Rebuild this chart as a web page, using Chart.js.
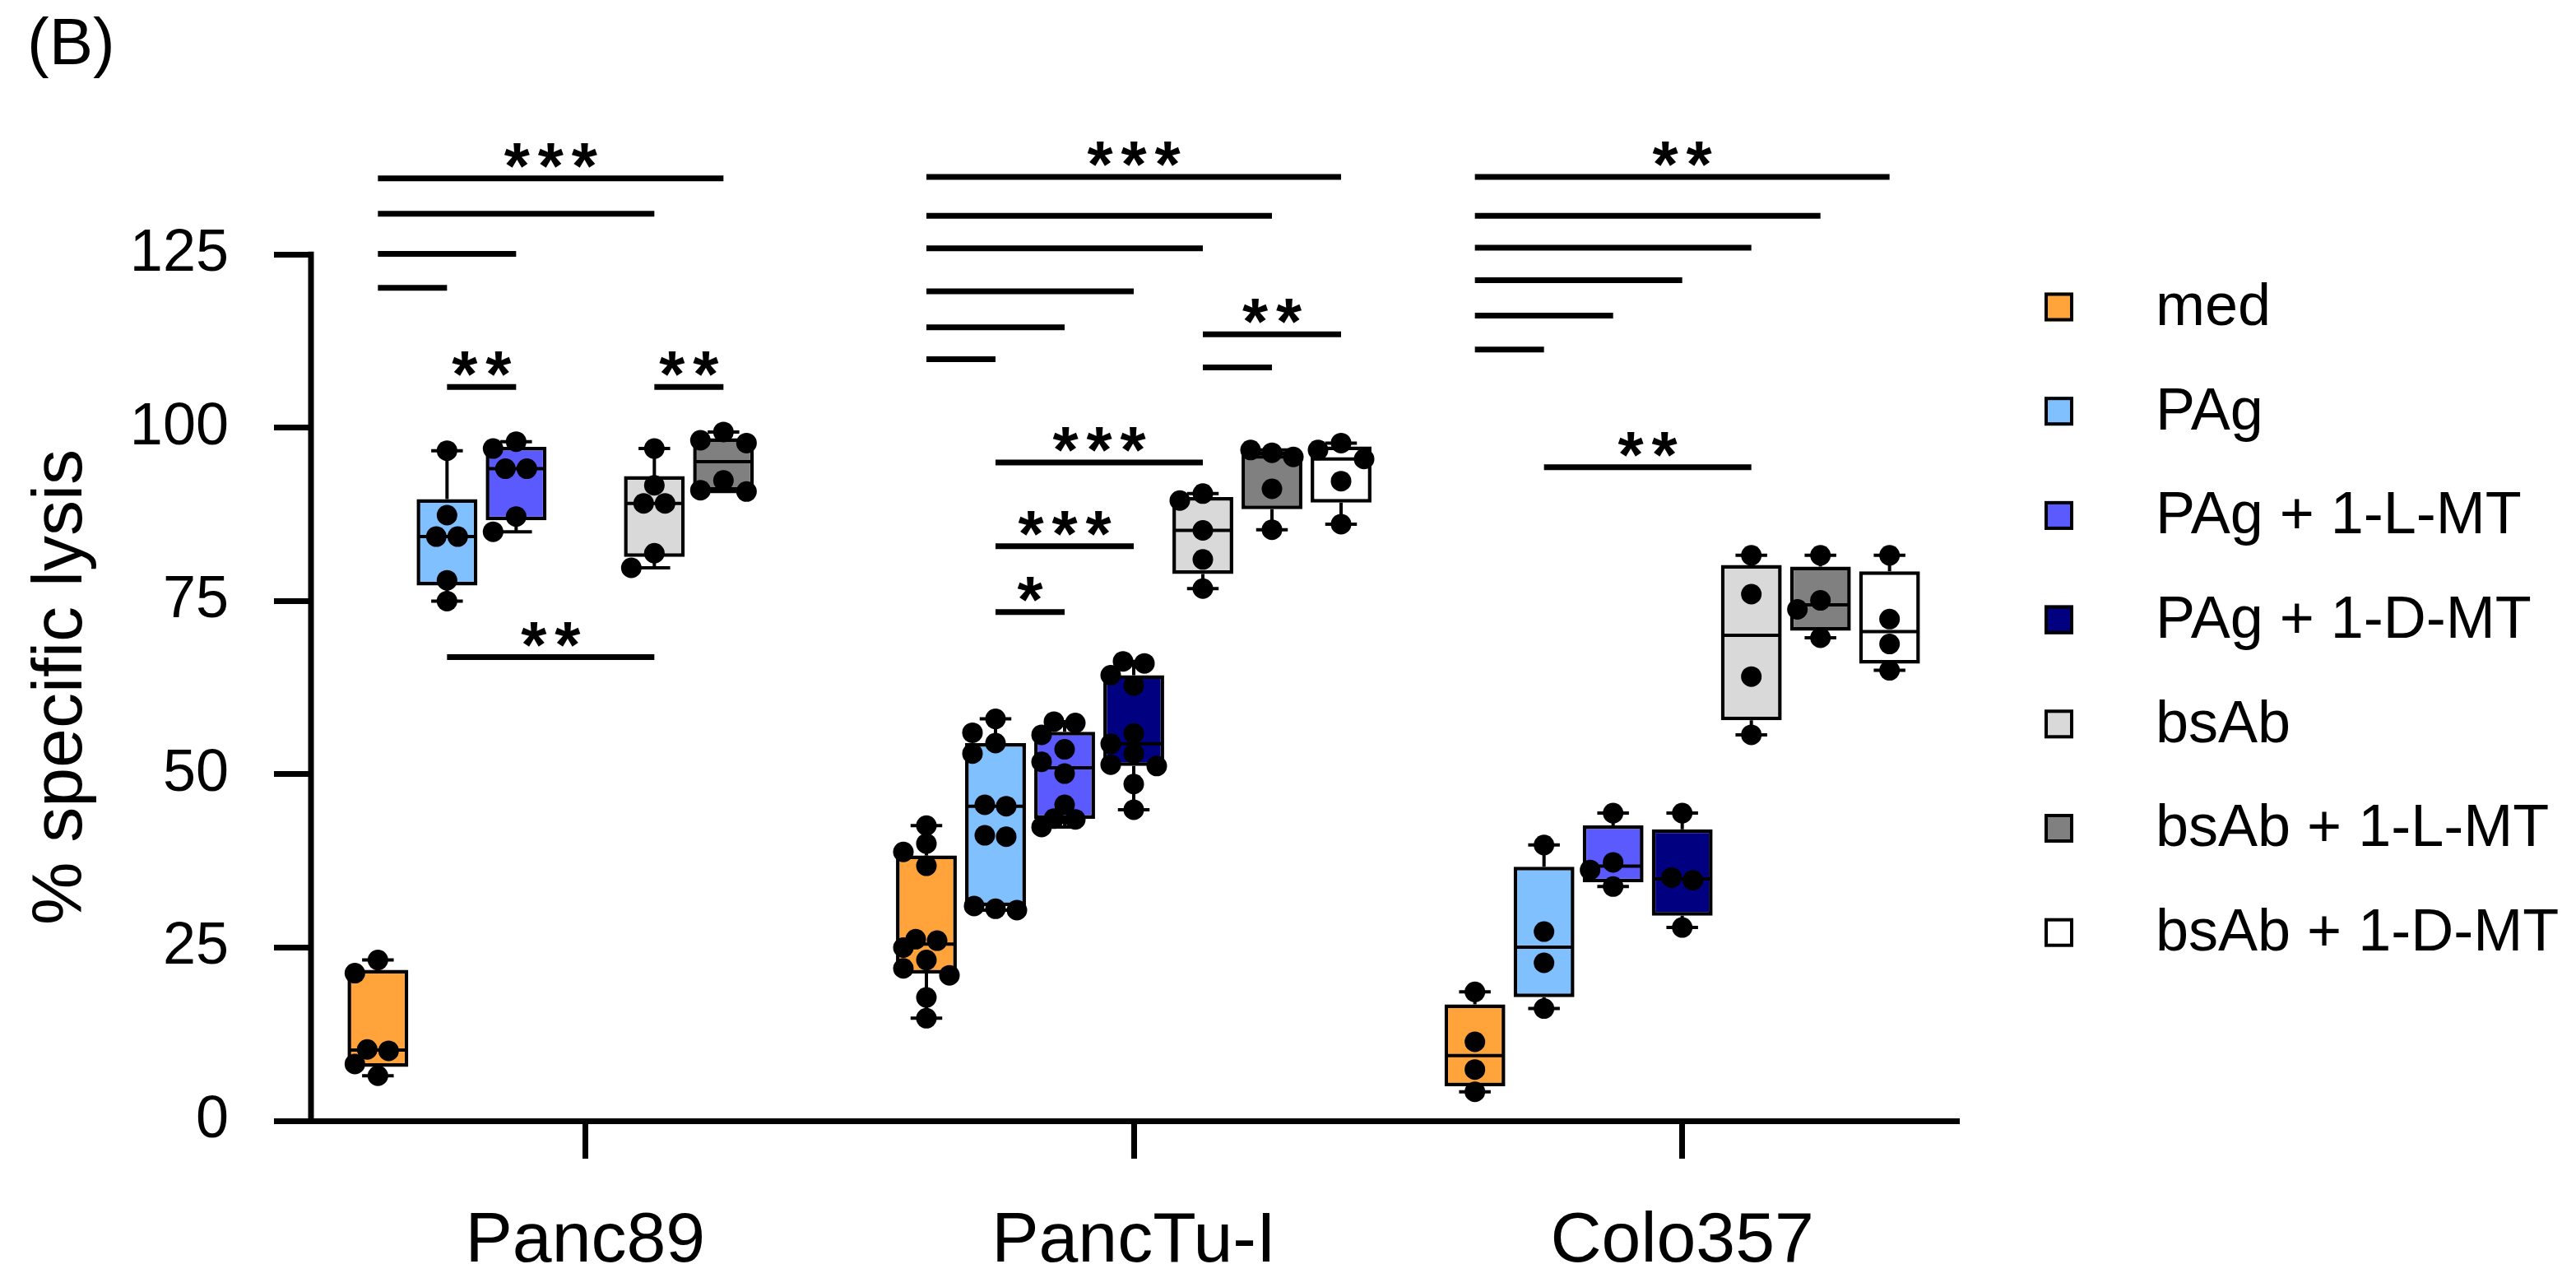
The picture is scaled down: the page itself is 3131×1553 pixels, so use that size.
<!DOCTYPE html>
<html>
<head>
<meta charset="utf-8">
<script src="https://cdn.jsdelivr.net/npm/chart.js@4.4.1/dist/chart.umd.min.js"></script>
<style>
html, body { margin: 0; padding: 0; background: #fff; }
#wrap { width: 3131px; height: 1553px; }
</style>
</head>
<body>
<div id="wrap"><canvas id="graf"></canvas></div>
<script>
var cellLines = ['Panc89', 'PancTu-I', 'Colo357'];
var conditions = ['med', 'PAg', 'PAg + 1-L-MT', 'PAg + 1-D-MT', 'bsAb', 'bsAb + 1-L-MT', 'bsAb + 1-D-MT'];
var boxColors = ['#FFA33A', '#80C0FF', '#5A5AFF', '#000080', '#D9D9D9', '#808080', '#FFFFFF'];
var yTicks = [0, 25, 50, 75, 100, 125];

// % specific lysis, one list per cell line (null = not tested)
var med   = [[23.2, 21.3, 10.3, 10.1, 8.2, 6.5],
             [42.6, 40.0, 38.8, 36.8, 26.2, 26.0, 25.0, 23.2, 22.0, 21.0, 17.8, 14.8],
             [18.6, 11.4, 7.4, 4.2]];
var pag   = [[96.7, 87.4, 84.3, 84.3, 78.0, 75.0],
             [58.0, 56.0, 54.5, 53.0, 45.6, 45.4, 41.2, 41.0, 31.0, 30.6, 30.4],
             [39.8, 27.3, 22.8, 16.2]];
var pagL  = [[98.0, 97.0, 94.1, 94.1, 87.2, 85.0],
             [57.6, 57.4, 55.7, 53.6, 51.8, 50.1, 45.6, 43.6, 43.5, 42.4],
             [44.4, 37.3, 36.2, 33.8]];
var pagD  = [null,
             [66.3, 66.0, 64.3, 62.8, 55.9, 54.4, 53.0, 51.4, 51.2, 48.6, 44.9],
             [44.4, 35.1, 34.7, 27.9]];
var bsab  = [[97.0, 91.7, 89.1, 89.1, 81.9, 79.8],
             [90.5, 89.5, 85.2, 81.0, 76.8],
             [81.6, 76.0, 64.1, 55.7]];
var bsabL = [[99.4, 98.2, 97.8, 92.4, 91.0, 90.8],
             [96.8, 96.4, 95.8, 91.2, 85.3],
             [81.6, 75.1, 73.8, 69.7]];
var bsabD = [null,
             [97.8, 96.8, 95.5, 92.3, 86.1],
             [81.6, 72.4, 68.8, 65.0]];

// significance bars: [from condition, to condition, level, stars]
var sigPanc89 = [[0, 5, 136.0, '***'], [0, 4, 130.9, ''], [0, 2, 125.1, ''], [0, 1, 120.2, ''],
                 [1, 2, 105.9, '**'], [4, 5, 105.9, '**'], [1, 4, 66.9, '**']];
var sigPancTu = [[0, 6, 136.2, '***'], [0, 5, 130.6, ''], [0, 4, 125.9, ''], [0, 3, 119.7, ''],
                 [0, 2, 114.5, ''], [0, 1, 109.9, ''], [4, 6, 113.5, '**'], [4, 5, 108.7, ''],
                 [1, 4, 95.0, '***'], [1, 3, 82.9, '***'], [1, 2, 73.4, '*']];
var sigColo   = [[0, 6, 136.2, '**'], [0, 5, 130.6, ''], [0, 4, 126.0, ''], [0, 3, 121.3, ''],
                 [0, 2, 116.2, ''], [0, 1, 111.3, ''], [1, 4, 94.3, '**']];

var series = [med, pag, pagL, pagD, bsab, bsabL, bsabD];
var sigSets = [sigPanc89, sigPancTu, sigColo];
var slot = 0.126;
var FONT = 'Liberation Sans, Arial, sans-serif';

function slotX(g, c) { return g + (c - 3) * slot; }

// Prism style quartiles (n+1 method)
function quant(sorted, p) {
    var pos = p * (sorted.length + 1) - 1;
    if (pos <= 0) return sorted[0];
    if (pos >= sorted.length - 1) return sorted[sorted.length - 1];
    var lo = Math.floor(pos);
    return sorted[lo] + (pos - lo) * (sorted[lo + 1] - sorted[lo]);
}

var datasets = [];
var dots = [];
series.forEach(function (groups, c) {
    var rows = [];
    groups.forEach(function (vals, g) {
        if (!vals) return;
        var s = vals.slice().sort(function (a, b) { return a - b; });
        rows.push({ x: slotX(g, c), y: [quant(s, 0.25), quant(s, 0.75)],
                    lo: s[0], mid: quant(s, 0.5), hi: s[s.length - 1] });
        vals.forEach(function (v) { dots.push({ x: slotX(g, c), y: v, base: slotX(g, c) }); });
    });
    datasets.push({
        type: 'bar', label: conditions[c], box: true, data: rows,
        backgroundColor: boxColors[c], borderColor: '#000', borderWidth: 4.5,
        borderSkipped: false, grouped: false, barPercentage: 0.88, categoryPercentage: 1, order: 1
    });
});
datasets.push({
    type: 'scatter', label: 'dots', data: dots, order: 0,
    pointRadius: 12.5, pointHoverRadius: 12.5, pointBackgroundColor: '#000', pointBorderWidth: 0
});

var boxWhiskers = {
    id: 'boxWhiskers',
    afterDatasetDraw: function (chart, args) {
        var ds = chart.data.datasets[args.index];
        if (!ds.box) return;
        var ctx = chart.ctx, y = chart.scales.y;
        ctx.save();
        ctx.strokeStyle = '#000';
        args.meta.data.forEach(function (bar, i) {
            var s = ds.data[i], half = bar.width / 2, cap = bar.width * 0.26;
            var yq1 = y.getPixelForValue(s.y[0]), yq3 = y.getPixelForValue(s.y[1]);
            var ylo = y.getPixelForValue(s.lo), yhi = y.getPixelForValue(s.hi);
            ctx.lineWidth = 4;
            ctx.beginPath();
            ctx.moveTo(bar.x, yq3); ctx.lineTo(bar.x, yhi);
            ctx.moveTo(bar.x - cap, yhi); ctx.lineTo(bar.x + cap, yhi);
            ctx.moveTo(bar.x, yq1); ctx.lineTo(bar.x, ylo);
            ctx.moveTo(bar.x - cap, ylo); ctx.lineTo(bar.x + cap, ylo);
            ctx.stroke();
            var ym = y.getPixelForValue(s.mid);
            ctx.beginPath();
            ctx.moveTo(bar.x - half + 2, ym); ctx.lineTo(bar.x + half - 2, ym);
            ctx.stroke();
        });
        ctx.restore();
    }
};

var extras = {
    id: 'extras',
    afterDraw: function (chart) {
        var ctx = chart.ctx, x = chart.scales.x, y = chart.scales.y, a = chart.chartArea;
        ctx.save();
        // y axis line, only up to the last tick
        ctx.strokeStyle = '#000';
        ctx.lineWidth = 7;
        ctx.beginPath();
        ctx.moveTo(a.left, a.bottom + 3.5);
        ctx.lineTo(a.left, y.getPixelForValue(125) - 3.5);
        ctx.stroke();

        // significance bars, stars set one by one with a wide pitch
        ctx.fillStyle = '#000';
        ctx.font = 'bold 80px ' + FONT;
        ctx.textAlign = 'center';
        ctx.textBaseline = 'alphabetic';
        var star = ctx.measureText('*'), pitch = 41;
        sigSets.forEach(function (set, g) {
            set.forEach(function (s) {
                var x1 = x.getPixelForValue(slotX(g, s[0])), x2 = x.getPixelForValue(slotX(g, s[1]));
                var yy = y.getPixelForValue(s[2]);
                ctx.lineWidth = 7;
                ctx.beginPath();
                ctx.moveTo(x1, yy); ctx.lineTo(x2, yy);
                ctx.stroke();
                var n = s[3].length, mid = (x1 + x2) / 2;
                for (var k = 0; k < n; k++) {
                    ctx.fillText('*', mid + (k - (n - 1) / 2) * pitch, yy - 13 - star.actualBoundingBoxDescent);
                }
            });
        });

        // axis title
        ctx.save();
        ctx.translate(75, 835);
        ctx.rotate(-Math.PI / 2);
        ctx.font = '86px ' + FONT;
        ctx.textAlign = 'center';
        ctx.textBaseline = 'middle';
        ctx.fillText('% specific lysis', 0, 0);
        ctx.restore();

        // panel letter
        ctx.font = '80px ' + FONT;
        ctx.textAlign = 'left';
        ctx.fillText('(B)', 33, 78);

        // legend
        ctx.font = '72px ' + FONT;
        ctx.textBaseline = 'middle';
        conditions.forEach(function (name, i) {
            var cy = 373 + i * 126.7;
            ctx.fillStyle = boxColors[i];
            ctx.fillRect(2485, cy - 17.5, 35, 35);
            ctx.lineWidth = 4;
            ctx.strokeRect(2487, cy - 15.5, 31, 31);
            ctx.fillStyle = '#000';
            ctx.fillText(name, 2620, cy + 2);
        });
        ctx.restore();
    }
};

var ctx = document.getElementById('graf').getContext('2d');
var graf = new Chart(ctx, {
    type: 'bar',
    data: { datasets: datasets },
    options: {
        responsive: true,
        maintainAspectRatio: false,
        devicePixelRatio: 1,
        animation: false,
        layout: { padding: { top: 183, right: 753, left: 0, bottom: 0 } },
        plugins: { legend: { display: false }, tooltip: { enabled: false } },
        scales: {
            x: {
                type: 'linear', min: -0.5, max: 2.5, offset: false,
                afterBuildTicks: function (s) { s.ticks = [0, 1, 2].map(function (v) { return { value: v }; }); },
                afterFit: function (s) { s.height = 191; },
                ticks: {
                    autoSkip: false, maxRotation: 0, padding: 50, color: '#000',
                    font: { family: FONT, size: 86 },
                    callback: function (v) { return cellLines[v]; }
                },
                grid: { offset: false, drawOnChartArea: false, drawTicks: true, tickLength: 46, lineWidth: 7, tickWidth: 7, tickColor: '#000', color: '#000' },
                border: { display: true, color: '#000', width: 7 }
            },
            y: {
                type: 'linear', min: 0, max: 140,
                afterBuildTicks: function (s) { s.ticks = yTicks.map(function (v) { return { value: v }; }); },
                afterFit: function (s) { s.width = 378; },
                ticks: { padding: 55, color: '#000', font: { family: FONT, size: 72 } },
                grid: { drawOnChartArea: false, drawTicks: true, tickLength: 45, lineWidth: 7, tickWidth: 7, tickColor: '#000', color: '#000' },
                border: { display: false }
            }
        }
    },
    plugins: [boxWhiskers, extras]
});

// spread the dots sideways (rows of near-equal values, then avoid overlaps)
(function () {
    var xs = graf.scales.x, ys = graf.scales.y;
    var cols = {};
    dots.forEach(function (p) { (cols[p.base] = cols[p.base] || []).push(p); });
    Object.keys(cols).forEach(function (k) {
        var col = cols[k].slice().sort(function (a, b) { return b.y - a.y; });
        var cx = xs.getPixelForValue(col[0].base);
        col.forEach(function (p) { p.py = ys.getPixelForValue(p.y); });
        var rows = [];
        col.forEach(function (p) {
            var last = rows[rows.length - 1];
            if (last && p.py - last[last.length - 1].py < 8) last.push(p); else rows.push([p]);
        });
        var placed = [];
        rows.forEach(function (row) {
            var n = row.length, layouts = [];
            var centred = row.map(function (p, i) { return (i - (n - 1) / 2) * 26; });
            layouts.push(centred);
            if (n === 1) { layouts.push([-28], [28]); }
            if (n === 2) { layouts.push([-28, 28]); }
            layouts.push(row.map(function (p, i) { return (i - (n - 1) / 2) * 28 - 14; }));
            var best = layouts[0], bestHit = Infinity;
            layouts.forEach(function (lay) {
                var hit = 0;
                row.forEach(function (p, i) {
                    placed.forEach(function (q) {
                        var d = Math.hypot(q.px - (cx + lay[i]), q.py - p.py);
                        if (d < 21) hit += 21 - d;
                    });
                });
                if (hit < bestHit - 0.01) { bestHit = hit; best = lay; }
            });
            row.forEach(function (p, i) {
                placed.push({ px: cx + best[i], py: p.py });
                p.x = xs.getValueForPixel(cx + best[i]);
            });
        });
    });
    graf.update('none');
})();
</script>
</body>
</html>
